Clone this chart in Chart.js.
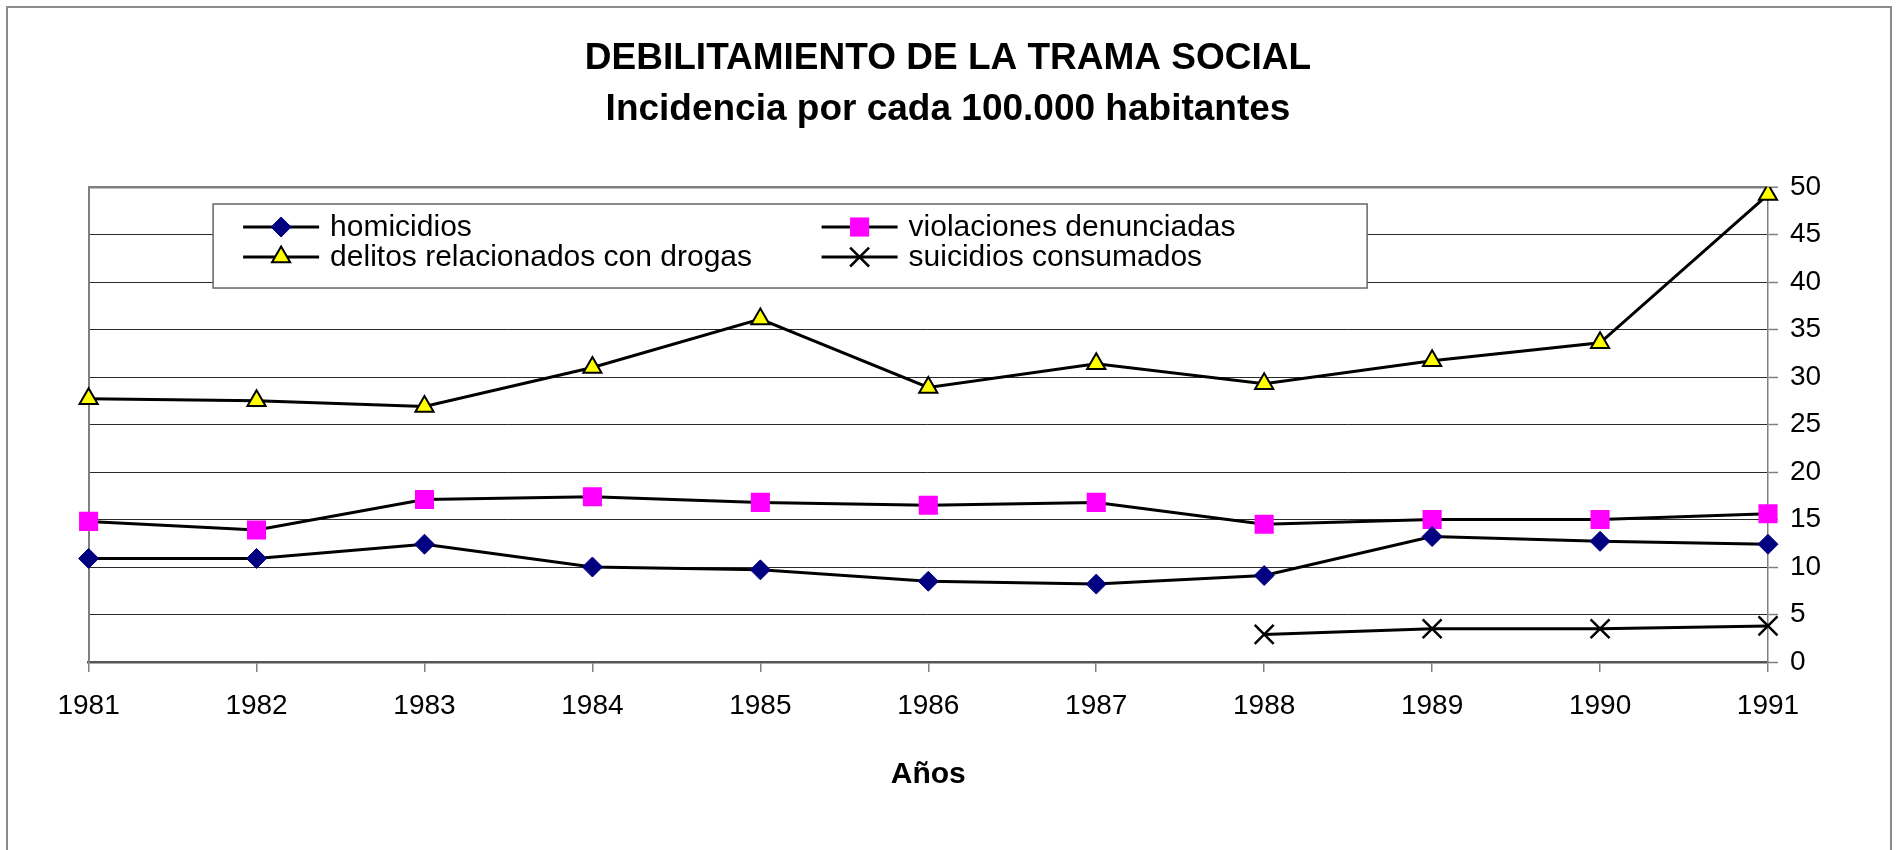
<!DOCTYPE html>
<html>
<head>
<meta charset="utf-8">
<script src="https://cdn.jsdelivr.net/npm/chart.js"></script>
<style>
  body { margin: 0; background: #fff; }
  #frame { position: absolute; left: 6px; top: 6px; width: 1886px; height: 900px; border: 2px solid #8c8c8c; box-sizing: border-box; }
  #chart { position: absolute; left: 0; top: 0; }
</style>
</head>
<body>
<div id="frame"></div>
<canvas id="chart" width="1902" height="850"></canvas>
<script>
// Values (per 100,000 inhabitants)
const years = ['1981', '1982', '1983', '1984', '1985', '1986', '1987', '1988', '1989', '1990', '1991'];
const homicidios = [10.9, 10.9, 12.4, 10.0, 9.7, 8.5, 8.2, 9.1, 13.2, 12.7, 12.4];
const violaciones = [14.8, 13.9, 17.1, 17.4, 16.8, 16.5, 16.8, 14.5, 15.0, 15.0, 15.6];
const drogas = [27.7, 27.5, 26.9, 31.0, 36.1, 28.9, 31.4, 29.3, 31.7, 33.6, 49.2];
const suicidios = [null, null, null, null, null, null, null, 2.9, 3.5, 3.5, 3.8];
const yTicks = [0, 5, 10, 15, 20, 25, 30, 35, 40, 45, 50];

const titleLines = ['DEBILITAMIENTO DE LA TRAMA SOCIAL', 'Incidencia por cada 100.000 habitantes'];
const xTitle = 'Años';
const FONT = "'Liberation Sans', Arial, sans-serif";

// legend drawn as a boxed two-column list inside the plot area
const boxLegend = {
    id: 'boxLegend',
    beforeDatasetsDraw(chart) {
        const ctx = chart.ctx;
        const area = chart.chartArea;
        const bx = area.left + 124.5, by = area.top + 17, bw = 1154, bh = 84;
        ctx.save();
        ctx.fillStyle = '#fff';
        ctx.fillRect(bx, by, bw, bh);
        ctx.strokeStyle = '#666';
        ctx.lineWidth = 1.5;
        ctx.strokeRect(bx, by, bw, bh);
        ctx.font = '30px ' + FONT;
        ctx.textBaseline = 'middle';
        ctx.fillStyle = '#000';
        chart.data.datasets.forEach((ds, i) => {
            const col = i % 2, row = Math.floor(i / 2);
            const x0 = bx + (col === 0 ? 30 : 608.5);
            const y = by + 23 + row * 30;
            ctx.strokeStyle = '#000';
            ctx.lineWidth = 3;
            ctx.beginPath();
            ctx.moveTo(x0, y);
            ctx.lineTo(x0 + 76, y);
            ctx.stroke();
            ctx.fillStyle = ds.pointBackgroundColor;
            ctx.strokeStyle = ds.pointBorderColor;
            ctx.lineWidth = ds.pointBorderWidth;
            Chart.helpers.drawPoint(ctx, {
                pointStyle: ds.pointStyle,
                radius: ds.pointRadius,
                rotation: 0,
                borderWidth: ds.pointBorderWidth
            }, x0 + 38, y);
            ctx.fillStyle = '#000';
            ctx.fillText(ds.label, x0 + 87, y + 1);
        });
        ctx.restore();
    }
};

function series(label, data, style, radius, bg, border, bw) {
    return {
        label: label,
        data: data,
        borderColor: '#000',
        borderWidth: 3,
        tension: 0,
        pointStyle: style,
        pointRadius: radius,
        pointHoverRadius: radius,
        pointBackgroundColor: bg,
        pointBorderColor: border,
        pointBorderWidth: bw,
        yAxisID: 'y'
    };
}

new Chart(document.getElementById('chart'), {
    type: 'line',
    data: {
        labels: years,
        datasets: [
            series('homicidios', homicidios, 'rectRot', 10, '#000080', '#000080', 1),
            series('violaciones denunciadas', violaciones, 'rect', 13.5, '#FF00FF', '#FF00FF', 0),
            series('delitos relacionados con drogas', drogas, 'triangle', 10.5, '#FFFF00', '#000', 2),
            series('suicidios consumados', suicidios, 'crossRot', 13.4, '#000', '#000', 2.5)
        ]
    },
    options: {
        responsive: false,
        animation: false,
        devicePixelRatio: 1,
        layout: { padding: { left: 0, right: 6, top: 0, bottom: 0 } },
        plugins: {
            legend: { display: false },
            tooltip: { enabled: false },
            title: {
                display: true,
                text: titleLines,
                color: '#000',
                font: { family: FONT, size: 37, weight: 'bold', lineHeight: 1.38 },
                padding: { top: 33.5, bottom: 51.4 }
            }
        },
        scales: {
            x: {
                type: 'category',
                offset: false,
                grid: { drawOnChartArea: false, drawTicks: true, tickLength: 10, color: '#808080', lineWidth: 1.5 },
                border: { display: true, color: '#555', width: 2.5 },
                ticks: { color: '#000', font: { family: FONT, size: 28, lineHeight: 1.2 }, padding: 17, maxRotation: 0, autoSkip: false },
                title: { display: true, text: xTitle, color: '#000', font: { family: FONT, size: 30, weight: 'bold', lineHeight: 1.2 }, padding: { top: 0, bottom: 57 } },
                afterFit(scale) { scale.height = 188; }
            },
            y: {
                position: 'right',
                min: 0,
                max: 50,
                afterBuildTicks(scale) { scale.ticks = yTicks.map(v => ({ value: v })); },
                grid: {
                    color: c => (c.tick && (c.tick.value === 50 || c.tick.value === 0)) ? '#808080' : '#2a2a2a',
                    lineWidth: c => (c.tick && c.tick.value === 50) ? 2.5 : 1,
                    tickColor: '#808080',
                    tickLength: 10,
                    tickWidth: 1.5
                },
                border: { display: true, color: '#808080', width: 1.5 },
                ticks: { color: '#000', font: { family: FONT, size: 28, lineHeight: 1.2 }, padding: 12 },
                afterFit(scale) { scale.width = 128; }
            },
            yLeft: {
                position: 'left',
                min: 0,
                max: 50,
                grid: { drawOnChartArea: false, drawTicks: false },
                border: { display: true, color: '#808080', width: 2 },
                ticks: { display: false },
                afterFit(scale) { scale.width = 88.6; }
            }
        }
    },
    plugins: [boxLegend]
});
</script>
</body>
</html>
